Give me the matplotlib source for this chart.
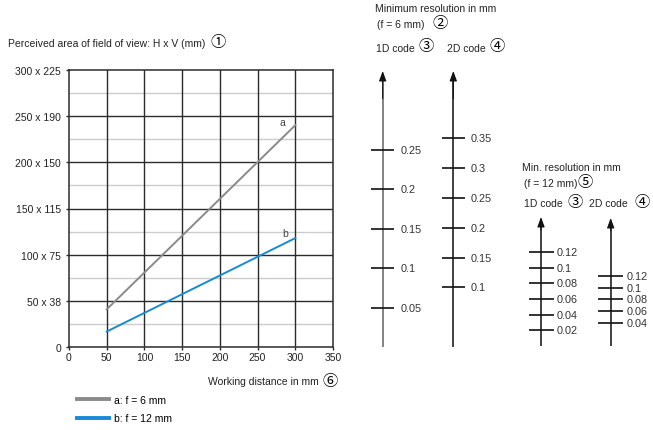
"""
Field of view vs. working distance, with minimum resolution scales
for 1D / 2D codes at f = 6 mm and f = 12 mm.
"""

import matplotlib.pyplot as plt
from matplotlib.lines import Line2D

W, H = 653, 431
FONT = ['Liberation Sans', 'Noto Sans CJK SC', 'DejaVu Sans']
CIRC = ['Noto Sans CJK SC', 'DejaVu Sans']
FS = 7.5
CS = 11  # circled digits

plt.rcParams['font.family'] = FONT
plt.rcParams['font.size'] = FS

# ---------------- data ----------------
working_distance = [50, 300]
fov_a = [41, 240]     # f = 6 mm
fov_b = [17, 118]     # f = 12 mm

x_ticks = [0, 50, 100, 150, 200, 250, 300, 350]
y_ticks = [0, 50, 100, 150, 200, 250, 300]
y_tick_labels = ['0', '50 x 38', '100 x 75', '150 x 115',
                 '200 x 150', '250 x 190', '300 x 225']
y_minor = [25, 75, 125, 175, 225, 275]

res6_1d = [0.05, 0.1, 0.15, 0.2, 0.25]
res6_2d = [0.1, 0.15, 0.2, 0.25, 0.3, 0.35]
res12_1d = [0.02, 0.04, 0.06, 0.08, 0.1, 0.12]
res12_2d = [0.04, 0.06, 0.08, 0.1, 0.12]

GRAY = '#8a8a8a'
BLUE = '#168bd3'
GRID = '#2b2b2b'


def fx(x):
    return x / W


def fy(y):
    return 1 - y / H


fig = plt.figure(figsize=(W / 100, H / 100), dpi=100)

# ---------------- main chart ----------------
x0, x1, y0, y1 = 69, 333, 348.3, 70.7
ax = fig.add_axes([fx(x0), fy(y0), fx(x1 - x0), (y0 - y1) / H])
ax.set_xlim(0, 350)
ax.set_ylim(0, 300)

for v in y_minor:
    ax.axhline(v, color='#cccccc', lw=1.0, zorder=1)
for v in y_ticks[1:-1]:
    ax.axhline(v, color=GRID, lw=1.0, zorder=2)
for v in x_ticks[1:-1]:
    ax.axvline(v, color=GRID, lw=1.0, zorder=2)

ax.plot(working_distance, fov_a, color=GRAY, lw=1.4, zorder=3)
ax.plot(working_distance, fov_b, color=BLUE, lw=1.4, zorder=3)
ax.annotate('a', (working_distance[-1], fov_a[-1]), xytext=(-9.5, 2),
            textcoords='offset points', ha='center', va='center', color='#444')
ax.annotate('b', (working_distance[-1], fov_b[-1]), xytext=(-7.5, 4),
            textcoords='offset points', ha='center', va='center', color='#444')

ax.set_xticks(x_ticks)
ax.set_yticks(y_ticks)
ax.set_yticklabels(y_tick_labels)
ax.tick_params(length=2.2, width=1, color=GRID, labelsize=FS, pad=3.5,
               labelcolor='#222')
ax.tick_params(axis='x', pad=1.5)
for s in ax.spines.values():
    s.set_color(GRID)
    s.set_linewidth(1.1)

fig.text(fx(8), fy(44), 'Perceived area of field of view: H x V (mm)',
         va='center', ha='left', color='#222')
fig.text(fx(218.5), fy(42.5), '①', family=CIRC, fontsize=CS, ha='center', va='center')
fig.text(fx(319), fy(382), 'Working distance in mm', va='center', ha='right', color='#222')
fig.text(fx(330), fy(381.5), '⑥', family=CIRC, fontsize=CS, ha='center', va='center')

handles = [Line2D([], [], color=GRAY, lw=2.8), Line2D([], [], color=BLUE, lw=2.8)]
fig.legend(handles, ['a: f = 6 mm', 'b: f = 12 mm'], loc='upper left',
           bbox_to_anchor=(fx(77), fy(396)), frameon=False, borderpad=0,
           borderaxespad=0, handlelength=3.1, handletextpad=0.5,
           labelspacing=0.8, fontsize=FS)


# ---------------- resolution scales ----------------
def scale(xc, bottom, tip, ymax, values, half=12, shaft='#333', gap=5):
    sax = fig.add_axes([fx(xc - half), fy(bottom), 2 * half / W, (bottom - tip) / H])
    sax.set_xlim(-1, 1)
    sax.set_ylim(0, ymax)
    sax.axis('off')
    sax.plot([0, 0], [0, ymax * 0.97], color=shaft, lw=1.3, solid_capstyle='butt')
    sax.annotate('', xy=(0, ymax), xytext=(0, ymax * 0.9),
                 arrowprops=dict(arrowstyle='-|>,head_length=0.6,head_width=0.22',
                                 color='#111', lw=0.8, shrinkA=0, shrinkB=0,
                                 mutation_scale=10),
                 annotation_clip=False)
    sax.hlines(values, -1, 1, color='#111', lw=1.2)
    for v in values:
        sax.annotate(f'{v:g}', (1, v), xytext=(gap * 0.72, 0), textcoords='offset points',
                     va='center', ha='left', fontsize=FS + 0.3, color='#333',
                     annotation_clip=False)
    return sax


scale(382.7, 348, 72, 0.350, res6_1d, half=11.7, shaft='#7a7a7a', gap=6)
scale(453.3, 348, 72, 0.463, res6_2d, half=11.7, shaft='#333', gap=6)
scale(541, 347, 218, 0.165, res12_1d, half=12.5, shaft='#333', gap=3.5)
scale(610.7, 347, 219, 0.220, res12_2d, half=12.5, shaft='#333', gap=3.5)

fig.text(fx(375), fy(9.5), 'Minimum resolution in mm', va='center', color='#222')
fig.text(fx(376.5), fy(25.5), '(f = 6 mm)', va='center', color='#222')
fig.text(fx(440), fy(23.5), '②', family=CIRC, fontsize=CS, ha='center', va='center')
fig.text(fx(376), fy(48.5), '1D code', va='center', color='#222')
fig.text(fx(425.7), fy(47), '③', family=CIRC, fontsize=CS, ha='center', va='center')
fig.text(fx(446.7), fy(48.5), '2D code', va='center', color='#222')
fig.text(fx(496.7), fy(47), '④', family=CIRC, fontsize=CS, ha='center', va='center')

fig.text(fx(522.5), fy(168.5), 'Min. resolution in mm', va='center', color='#222')
fig.text(fx(524), fy(184.5), '(f = 12 mm)', va='center', color='#222')
fig.text(fx(585), fy(182.5), '⑤', family=CIRC, fontsize=CS, ha='center', va='center')
fig.text(fx(524), fy(204.5), '1D code', va='center', color='#222')
fig.text(fx(575), fy(203), '③', family=CIRC, fontsize=CS, ha='center', va='center')
fig.text(fx(589), fy(204.5), '2D code', va='center', color='#222')
fig.text(fx(642), fy(203), '④', family=CIRC, fontsize=CS, ha='center', va='center')

fig.savefig('out.png', dpi=100)
